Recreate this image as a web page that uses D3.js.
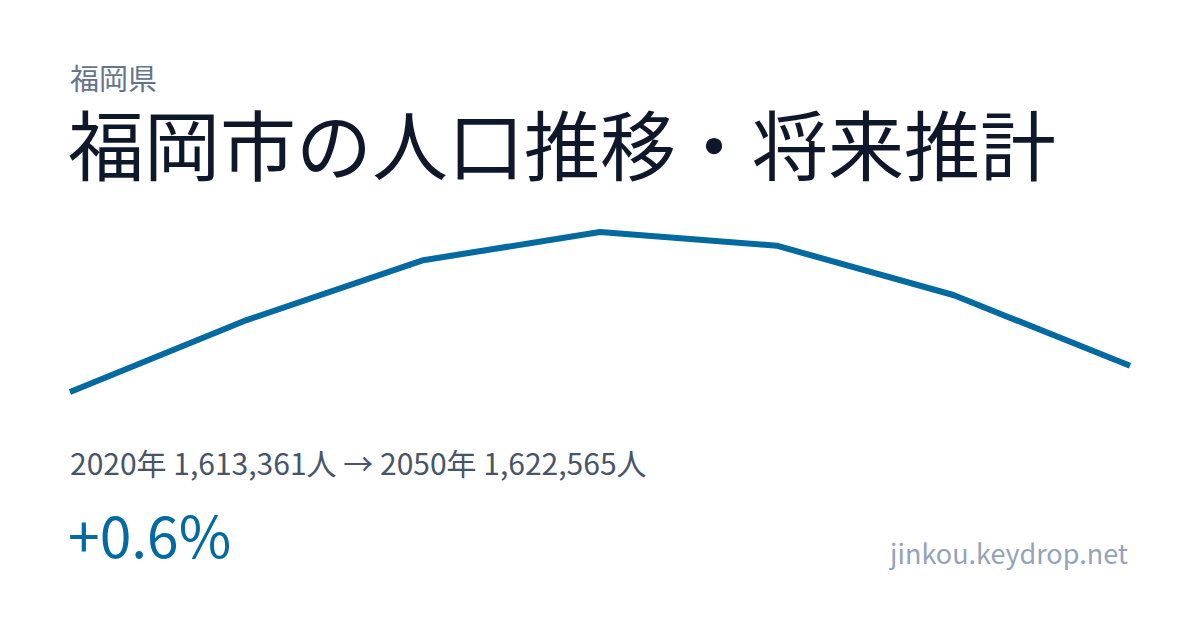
<!DOCTYPE html>
<html>
<head>
<meta charset="utf-8">
<script src="https://cdn.jsdelivr.net/npm/d3@7"></script>
<style>
  body { margin: 0; background: #fff; }
  svg { display: block; }
  text { font-family: "Noto Sans CJK JP", "Noto Sans", sans-serif; }
</style>
</head>
<body>
<div class="canvas"></div>
<script>
// data (2020 and 2050 are printed, the rest estimated)
const years = [2020, 2025, 2030, 2035, 2040, 2045, 2050];
const population = [1613361, 1638600, 1659600, 1669500, 1664700, 1647400, 1622565];

const prefecture = '福岡県';
const title = '福岡市の人口推移・将来推計';
const site = 'jinkou.keydrop.net';

const width = 1200;
const height = 630;

const svg = d3.select('.canvas')
    .append('svg')
        .attr('width', width)
        .attr('height', height);

const fmt = d3.format(',');
const first = population[0];
const last = population[population.length - 1];
const change = (last - first) / first * 100;

// header
svg.append('text')
    .attr('x', 70)
    .attr('y', 90)
    .attr('font-size', 29)
    .attr('fill', '#64748b')
    .text(prefecture);

svg.append('text')
    .attr('x', 68)
    .attr('y', 175)
    .attr('font-size', 76)
    .attr('fill', '#0f172a')
    .text(title);

// sparkline
const x = d3.scaleLinear()
    .domain(d3.extent(years))
    .range([70, 1130]);

const y = d3.scaleLinear()
    .domain(d3.extent(population))
    .range([392, 232]);

const line = d3.line()
    .x((d, i) => x(years[i]))
    .y(d => y(d));

svg.append('path')
    .datum(population)
    .attr('d', line)
    .attr('fill', 'none')
    .attr('stroke', '#0369a1')
    .attr('stroke-width', 6)
    .attr('stroke-linejoin', 'round');

// summary
svg.append('text')
    .attr('x', 70)
    .attr('y', 475)
    .attr('font-size', 30)
    .attr('fill', '#475569')
    .text(`${years[0]}年 ${fmt(first)}人 → ${years[years.length - 1]}年 ${fmt(last)}人`);

svg.append('text')
    .attr('x', 68)
    .attr('y', 558)
    .attr('font-size', 57)
    .attr('fill', '#0369a1')
    .text(`${change >= 0 ? '+' : ''}${change.toFixed(1)}%`);

svg.append('text')
    .attr('x', 1128)
    .attr('y', 564)
    .attr('text-anchor', 'end')
    .attr('font-size', 27)
    .attr('fill', '#94a3b8')
    .text(site);
</script>
</body>
</html>
